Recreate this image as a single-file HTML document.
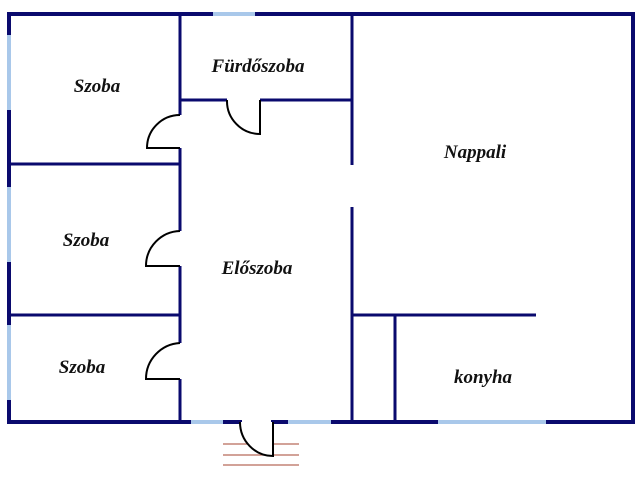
<!DOCTYPE html>
<html><head><style>
html,body{margin:0;padding:0;background:#fff;}
svg{display:block;}
text{font-family:"Liberation Serif",serif;font-weight:bold;font-style:italic;font-size:19px;fill:#111;text-anchor:middle;}
</style></head><body>
<svg width="640" height="480" viewBox="0 0 640 480" xmlns="http://www.w3.org/2000/svg">
<rect width="640" height="480" fill="#fff"/>
<g stroke="#0a0a6e" stroke-width="4" fill="none" stroke-linecap="square">
<line x1="9" y1="14" x2="213" y2="14"/>
<line x1="255" y1="14" x2="633" y2="14"/>
<line x1="633" y1="14" x2="633" y2="422"/>
<line x1="9" y1="14" x2="9" y2="35"/>
<line x1="9" y1="110" x2="9" y2="187"/>
<line x1="9" y1="262" x2="9" y2="325"/>
<line x1="9" y1="400" x2="9" y2="422"/>
<line x1="9" y1="422" x2="191" y2="422"/>
<line x1="223" y1="422" x2="240" y2="422"/>
<line x1="273" y1="422" x2="288" y2="422"/>
<line x1="331" y1="422" x2="438" y2="422"/>
<line x1="546" y1="422" x2="633" y2="422"/>
</g>
<g stroke="#0a0a6e" stroke-width="3" fill="none">
<line x1="180" y1="14" x2="180" y2="115"/>
<line x1="180" y1="148" x2="180" y2="231"/>
<line x1="180" y1="266" x2="180" y2="343"/>
<line x1="180" y1="379" x2="180" y2="422"/>
<line x1="9" y1="164" x2="180" y2="164"/>
<line x1="9" y1="315" x2="180" y2="315"/>
<line x1="180" y1="100" x2="227" y2="100"/>
<line x1="260" y1="100" x2="352" y2="100"/>
<line x1="352" y1="14" x2="352" y2="165"/>
<line x1="352" y1="207" x2="352" y2="422"/>
<line x1="352" y1="315" x2="536" y2="315"/>
<line x1="395" y1="315" x2="395" y2="422"/>
</g>
<g stroke="#a9c8ea" stroke-width="4" fill="none">
<line x1="213" y1="14" x2="255" y2="14"/>
<line x1="9" y1="35" x2="9" y2="110"/>
<line x1="9" y1="187" x2="9" y2="262"/>
<line x1="9" y1="325" x2="9" y2="400"/>
<line x1="191" y1="422" x2="223" y2="422"/>
<line x1="288" y1="422" x2="331" y2="422"/>
<line x1="438" y1="422" x2="546" y2="422"/>
</g>
<g stroke="#b86a5a" stroke-width="1.3">
<line x1="223" y1="444" x2="299" y2="444"/>
<line x1="223" y1="455" x2="299" y2="455"/>
<line x1="223" y1="465" x2="299" y2="465"/>
</g>
<g stroke="#000" stroke-width="2" fill="none">
<path d="M180 115 A33 33 0 0 0 147 148 L180 148"/>
<path d="M180 231 A35 35 0 0 0 146 266 L180 266"/>
<path d="M180 343 A36 36 0 0 0 146 379 L180 379"/>
<path d="M227 100 A33 33 0 0 0 260 134 L260 100"/>
<path d="M240 422 A33 34 0 0 0 273 456 L273 422" fill="#fff"/>
</g>
<text x="97" y="92">Szoba</text>
<text x="258" y="72">Fürdőszoba</text>
<text x="475" y="158">Nappali</text>
<text x="86" y="246">Szoba</text>
<text x="257" y="274">Előszoba</text>
<text x="82" y="373">Szoba</text>
<text x="483" y="383">konyha</text>
</svg>
</body></html>
